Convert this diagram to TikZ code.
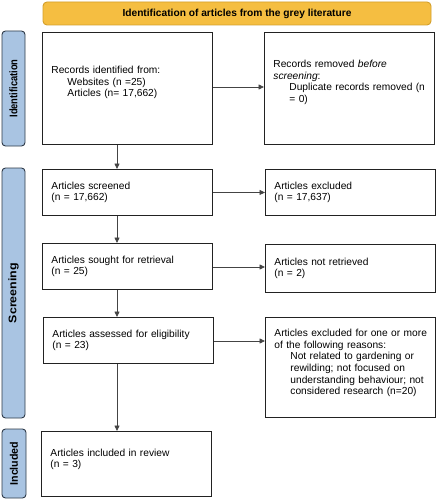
\documentclass[tikz,border=0pt]{standalone}
\usepackage{fontspec}
\setmainfont{Liberation Sans}
\usetikzlibrary{arrows.meta,calc}
\definecolor{bannerfill}{HTML}{F5BE41}
\definecolor{bannerline}{HTML}{D39F2B}
\definecolor{sidefill}{HTML}{A9C4E2}
\definecolor{sideline}{HTML}{2E3A48}
\definecolor{boxline}{HTML}{222222}
\definecolor{arrowline}{HTML}{444444}
\begin{document}
\begin{tikzpicture}[x=1pt,y=-1pt,
  box/.style={draw=boxline, line width=0.9pt, fill=white, inner xsep=9pt, inner ysep=0pt,
    text width=152pt, align=left, minimum width=170pt, anchor=north west,
    font=\fontsize{10.2}{11.7}\selectfont},
  boxtext/.style={box, draw=none, fill=none, minimum height=0pt, anchor=west},
  side/.style={draw=sideline, line width=0.9pt, fill=sidefill, rounded corners=3.5pt,
    rotate=90, inner sep=0pt, font=\fontsize{11}{12}\selectfont\bfseries},
  flow/.style={draw=arrowline, line width=0.8pt, -{Triangle[length=5.5pt,width=5pt]}}
]
\useasboundingbox (0,0) rectangle (436,500);

% banner
\node[draw=bannerline, line width=0.9pt, fill=bannerfill, rounded corners=4pt,
  minimum width=388pt, minimum height=23pt, inner sep=0pt,
  font=\fontsize{10.2}{12}\selectfont\bfseries] (banner) at (237,13.5)
  {Identification of articles from the grey literature};

% side bars
\node[side, minimum width=115pt, minimum height=23pt] (sid) at (13.5,88.5)
  {\scalebox{0.85}[1]{Identification}};
\node[side, minimum width=250pt, minimum height=23pt] (sscr) at (13.5,293)
  {\scalebox{1.13}[1]{Screening}};
\node[side, minimum width=69pt, minimum height=24pt] (sinc) at (14,463.5)
  {\scalebox{0.97}[1]{Included}};

% boxes
\node[box, minimum height=112pt] (A) at (42,32) {};
\node[boxtext] (At) at ($(A.west)+(0,-6)$)
  {Records identified from:\\
   \hspace*{16pt}Websites (n =25)\\
   \hspace*{16pt}Articles (n= 17,662)};
\node[box, minimum height=112pt] (B) at (264,32) {};
\node[boxtext] (Bt) at ($(B.west)+(0,-6)$)
  {Records removed \emph{before}\\
   \emph{screening}:\\
   \hspace*{16pt}\mbox{Duplicate records removed (n}\\
   \hspace*{16pt}= 0)};
\node[box, minimum height=46pt] (C) at (42,169)
  {Articles screened\\(n = 17,662)};
\node[box, minimum height=46pt] (D) at (265,169)
  {Articles excluded\\(n = 17,637)};
\node[box, minimum height=46pt] (E) at (42,243)
  {Articles sought for retrieval\\(n = 25)};
\node[box, minimum height=48pt] (F) at (265,244)
  {Articles not retrieved\\(n = 2)};
\node[box, minimum height=46pt] (G) at (43,317)
  {Articles assessed for eligibility\\(n = 23)};
\node[box, minimum height=100pt] (H) at (265,317) {};
\node[boxtext] (Ht) at ($(H.west)+(0,-4.5)$)
  {\mbox{Articles excluded for one or more}\\
   of the following reasons:\\
   \hspace*{16pt}Not related to gardening or\\
   \hspace*{16pt}rewilding; not focused on\\
   \hspace*{16pt}\mbox{understanding behaviour; not}\\
   \hspace*{16pt}considered research (n=20)};
\node[box, minimum height=65pt] (I) at (41,431) {};
\node[boxtext] (It) at ($(I.west)+(0,-4.5)$)
  {Articles included in review\\(n = 3)};

% connectors
\draw[flow] (A.east |- 0,87) -- (B.west |- 0,87);
\draw[flow] (C) -- (D.west |- C);
\draw[flow] (E.east |- 0,267) -- (F.west |- 0,267);
\draw[flow] (G.east |- 0,341) -- (H.west |- 0,341);
\draw[flow] (A.south -| 117,0) -- (C.north -| 117,0);
\draw[flow] (C.south -| 117,0) -- (E.north -| 117,0);
\draw[flow] (E.south -| 117,0) -- (G.north -| 117,0);
\draw[flow] (G.south -| 117,0) -- (I.north -| 117,0);
\end{tikzpicture}
\end{document}
